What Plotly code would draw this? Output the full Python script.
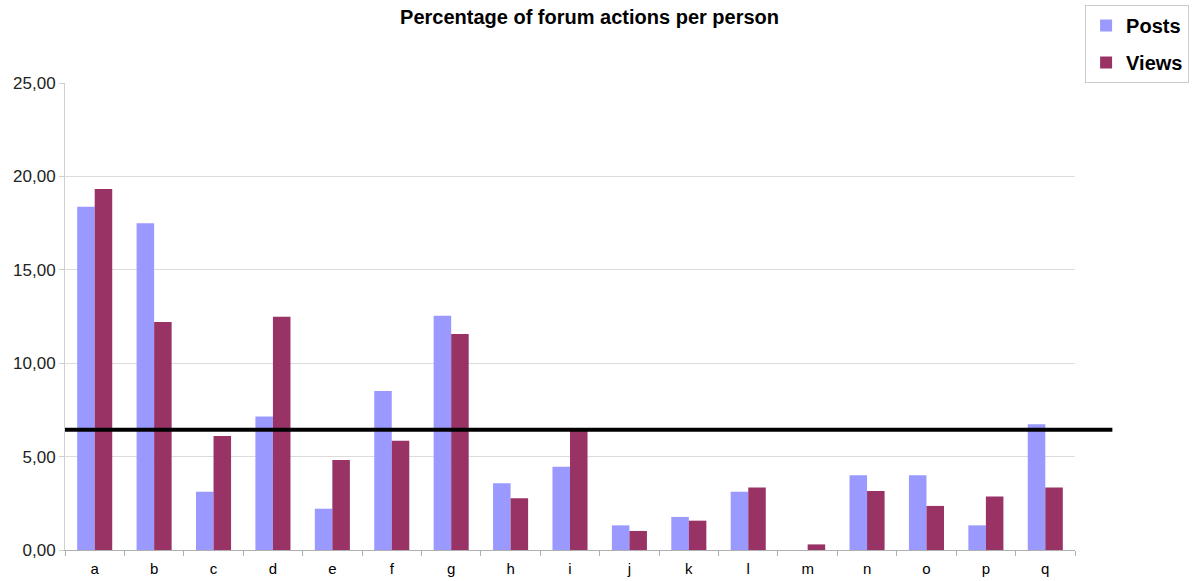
import plotly.graph_objects as go

categories = list("abcdefghijklmnopq")
posts = [18.38, 17.49, 3.12, 7.14, 2.21, 8.51, 12.54, 3.57, 4.46, 1.32, 1.77, 3.12, 0.0, 4.00, 4.00, 1.32, 6.73]
views = [19.32, 12.20, 6.10, 12.49, 4.82, 5.85, 11.56, 2.77, 6.42, 1.02, 1.57, 3.34, 0.30, 3.16, 2.36, 2.87, 3.34]
threshold = 6.44
y_ticks = [0, 5, 10, 15, 20, 25]
y_tick_text = ["0,00", "5,00", "10,00", "15,00", "20,00", "25,00"]

FONT = "Liberation Sans, Arial, sans-serif"

fig = go.Figure()
fig.add_trace(go.Bar(x=categories, y=posts, name="Posts", marker_color="#9999FF",
                     marker_line_width=0, legendgroup="p"))
fig.add_trace(go.Bar(x=categories, y=views, name="Views", marker_color="#993366",
                     marker_line_width=0, legendgroup="v"))

fig.add_shape(type="line", xref="paper", yref="y", x0=0, x1=1.037,
              y0=threshold, y1=threshold, line=dict(color="black", width=4))

fig.update_layout(
    width=1199, height=581,
    margin=dict(l=65, r=124, t=83, b=31, autoexpand=False),
    paper_bgcolor="white", plot_bgcolor="white",
    bargap=0.41, bargroupgap=0,
    title=dict(text="<b>Percentage of forum actions per person</b>",
               x=0.4917, xref="container", xanchor="center",
               y=0.982, yref="container", yanchor="top",
               font=dict(family=FONT, size=20, color="black")),
    legend=dict(x=1.01, xanchor="left", y=1.167, yanchor="top",
                font=dict(family=FONT, size=20, color="black", weight="bold"),
                bordercolor="#cccccc", borderwidth=1, bgcolor="white",
                tracegroupgap=8, traceorder="grouped"),
    showlegend=True,
)
fig.update_xaxes(showgrid=False, showline=True, linecolor="#b0b0b0", linewidth=1,
                 ticks="outside", tickson="boundaries", ticklen=5, tickcolor="#b0b0b0",
                 automargin=False, ticklabelstandoff=5,
                 tickfont=dict(family=FONT, size=15, color="black"))
fig.update_yaxes(range=[0, 25], tickvals=y_ticks, ticktext=y_tick_text,
                 showgrid=True, gridcolor="#dcdcdc", gridwidth=1,
                 showline=True, linecolor="#d0d0d0", linewidth=1,
                 ticks="outside", ticklen=5, tickcolor="#d0d0d0",
                 zeroline=False, automargin=False,
                 tickfont=dict(family=FONT, size=17, color="#222222"))

fig.write_html("out.html")
